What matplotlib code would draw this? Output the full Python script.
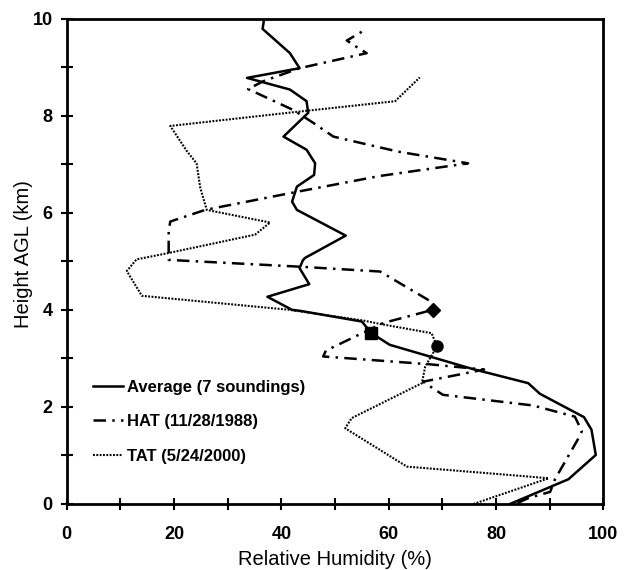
import matplotlib.pyplot as plt
from matplotlib.ticker import MultipleLocator

# Relative humidity profiles (RH %, height km)
avg_rh = [82.6, 93.5, 98.6, 97.8, 96.4, 88.2, 86.0, 75.7, 60.2, 56.8, 55.0, 43.5,
          42.0, 37.4, 45.2, 43.4, 44.0, 44.4, 52.0, 42.9, 42.0, 42.9, 46.1, 46.3,
          44.7, 40.4, 45.0, 44.7, 41.6, 33.6, 43.4, 41.6, 36.5, 36.8]
avg_h = [0.0, 0.51, 1.01, 1.53, 1.79, 2.27, 2.49, 2.78, 3.28, 3.52, 3.76, 3.98,
         4.0, 4.27, 4.53, 4.86, 5.02, 5.07, 5.53, 6.06, 6.23, 6.54, 6.78, 7.02,
         7.30, 7.57, 8.06, 8.30, 8.54, 8.78, 8.98, 9.29, 9.79, 10.0]

hat_rh = [84.0, 86.0, 90.1, 91.0, 95.2, 96.0, 94.7, 86.9, 70.1, 66.4, 77.8, 67.5,
          47.8, 48.3, 59.0, 68.2, 67.3, 58.4, 43.4, 19.0, 19.0, 19.3, 25.8, 42.3,
          58.4, 74.8, 61.8, 49.7, 46.0, 42.2, 33.8, 36.6, 43.4, 55.9, 53.7, 52.2, 55.6]
hat_h = [0.02, 0.12, 0.25, 0.51, 1.32, 1.50, 1.80, 2.03, 2.25, 2.52, 2.77, 2.88,
         3.04, 3.16, 3.73, 4.0, 4.21, 4.79, 4.89, 5.03, 5.62, 5.82, 6.06, 6.42,
         6.76, 7.02, 7.26, 7.57, 7.85, 8.12, 8.55, 8.71, 8.98, 9.29, 9.44, 9.55, 9.77]

tat_rh = [75.8, 89.8, 84.5, 63.4, 51.9, 53.1, 66.2, 66.8, 69.0, 68.0, 58.4, 55.3,
          41.6, 14.0, 11.2, 13.0, 18.9, 35.1, 37.9, 26.1, 24.9, 24.2, 22.4, 19.3,
          42.0, 61.2, 65.8]
tat_h = [0.0, 0.53, 0.58, 0.77, 1.56, 1.77, 2.49, 2.83, 3.25, 3.52, 3.71, 3.78,
         4.0, 4.29, 4.80, 5.04, 5.17, 5.55, 5.80, 6.06, 6.51, 7.02, 7.27, 7.79,
         8.07, 8.30, 8.79]

# highlighted levels (square on average, diamond on HAT, circle on TAT)
mark_rh = [56.8, 68.2, 69.0]
mark_h = [3.52, 4.0, 3.25]
mark_shape = ['s', 'D', 'o']
mark_size = [8, 7, 8]

font = 'Liberation Sans'

fig = plt.figure(figsize=(6.27, 5.70), dpi=100)
ax = fig.add_axes([0.1064, 0.1158, 0.8558, 0.8514])

ax.plot(avg_rh, avg_h, color='black', lw=1.8, label='Average (7 soundings)')
ax.plot(hat_rh, hat_h, color='black', lw=1.8, dashes=(5, 2.5, 1, 2.5),
        label='HAT (11/28/1988)')
ax.plot(tat_rh, tat_h, color='black', lw=1.5, dashes=(0.9, 0.7),
        label='TAT (5/24/2000)')

for x, y, m, s in zip(mark_rh, mark_h, mark_shape, mark_size):
    ax.plot(x, y, marker=m, color='black', markersize=s, linestyle='none')

ax.set_xlim(0, 100)
ax.set_ylim(0, 10)
ax.xaxis.set_major_locator(MultipleLocator(20))
ax.xaxis.set_minor_locator(MultipleLocator(10))
ax.yaxis.set_major_locator(MultipleLocator(2))
ax.yaxis.set_minor_locator(MultipleLocator(1))
ax.tick_params(which='both', direction='inout', width=1.5, length=8,
               top=False, right=False)
ax.tick_params(axis='x', labelsize=13, pad=12)
ax.tick_params(axis='y', labelsize=13, pad=6)
for lbl in ax.get_xticklabels() + ax.get_yticklabels():
    lbl.set_fontweight('bold')
    lbl.set_fontfamily(font)
for sp in ax.spines.values():
    sp.set_linewidth(2)

ax.set_xlabel('Relative Humidity (%)', fontsize=14.5, family=font)
ax.set_ylabel('Height AGL (km)', fontsize=14.5, family=font)
ax.xaxis.set_label_coords(0.5, -0.094)
ax.yaxis.set_label_coords(-0.063, 0.515)

ax.legend(loc='upper left', bbox_to_anchor=(0.049, 0.256), frameon=False,
          prop={'family': font, 'weight': 'bold', 'size': 12},
          handlelength=1.8, handletextpad=0.25, labelspacing=1.17,
          borderpad=0, borderaxespad=0)

fig.savefig('out.png', dpi=100)
